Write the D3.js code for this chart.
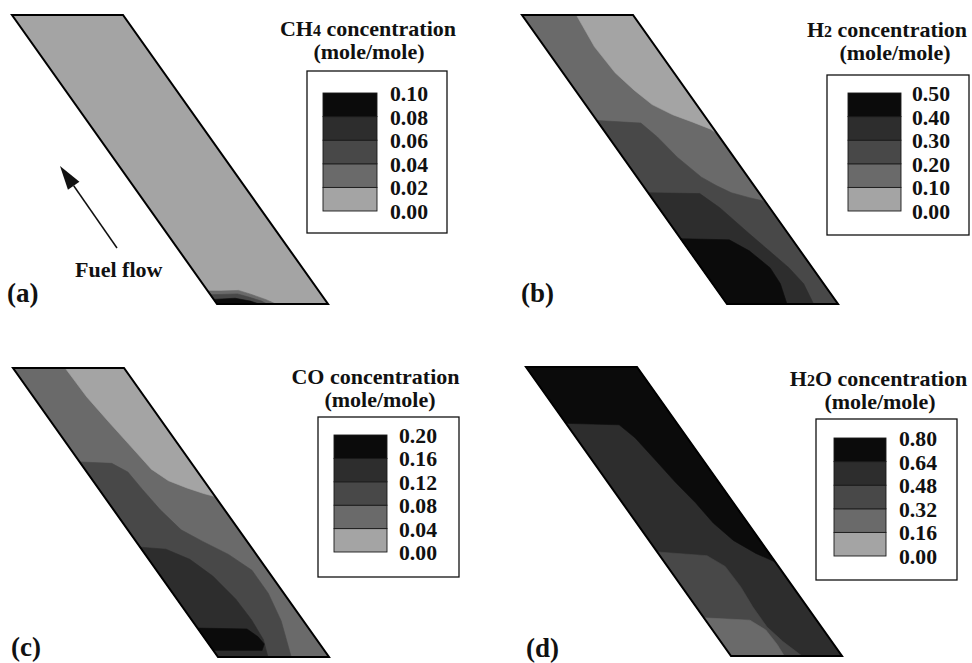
<!DOCTYPE html>
<html>
<head>
<meta charset="utf-8">
<script src="https://cdn.jsdelivr.net/npm/d3@7"></script>
<style>
  body { margin: 0; background: #fff; }
  text { font-family: "Liberation Serif", "Times New Roman", serif; font-weight: bold; fill: #111; }
</style>
</head>
<body>
<svg id="chart" width="972" height="663"></svg>
<script>
// grey levels of the five contour bands, lowest band first
const bandColors = ['#a4a4a4', '#6a6a6a', '#484848', '#2d2d2d', '#0b0b0b'];

// legend ticks (mole/mole)
const ch4Ticks = [0, 0.02, 0.04, 0.06, 0.08, 0.10];
const h2Ticks  = [0, 0.10, 0.20, 0.30, 0.40, 0.50];
const coTicks  = [0, 0.04, 0.08, 0.12, 0.16, 0.20];
const h2oTicks = [0, 0.16, 0.32, 0.48, 0.64, 0.80];

// contour regions, painted in order. pts are [across channel, along channel] in 0..1
const ch4Regions = [
  {value: 0.01, pts: [[0,0],[1,0],[1,1],[0,1]]},
  {value: 0.03, pts: [[0,0.955],[0.12,0.955],[0.28,0.953],[0.36,0.965],[0.47,0.985],[0.53,1],[0,1]]},
  {value: 0.05, pts: [[0,0.968],[0.25,0.965],[0.33,0.976],[0.42,0.99],[0.45,1],[0,1]]},
  {value: 0.09, pts: [[0,0.984],[0.2,0.98],[0.32,0.99],[0.38,1],[0,1]]}
];
const h2Regions = [
  {value: 0.15, pts: [[0,0],[1,0],[1,1],[0,1]]},
  {value: 0.05, pts: [[0.49,0],[1,0],[1,0.41],[0.97,0.395],[0.85,0.37],[0.72,0.345],[0.6,0.31],[0.53,0.26],[0.47,0.2],[0.45,0.11]]},
  {value: 0.25, pts: [[0,0.365],[0.38,0.374],[0.44,0.422],[0.49,0.492],[0.58,0.561],[0.66,0.59],[0.75,0.615],[0.88,0.632],[1,0.645],[1,1],[0,1]]},
  {value: 0.35, pts: [[0,0.615],[0.46,0.618],[0.55,0.667],[0.65,0.757],[0.72,0.816],[0.79,0.875],[0.82,0.93],[0.78,1],[0,1]]},
  {value: 0.45, pts: [[0,0.774],[0.43,0.778],[0.54,0.816],[0.62,0.875],[0.61,0.93],[0.54,1],[0,1]]}
];
const coRegions = [
  {value: 0.06, pts: [[0,0],[1,0],[1,1],[0,1]]},
  {value: 0.02, pts: [[0.47,0],[1,0],[1,0.445],[0.92,0.435],[0.8,0.415],[0.68,0.39],[0.6,0.35],[0.56,0.27],[0.52,0.19],[0.48,0.1]]},
  {value: 0.10, pts: [[0,0.325],[0.28,0.33],[0.37,0.36],[0.39,0.42],[0.42,0.49],[0.48,0.56],[0.6,0.6],[0.75,0.645],[0.86,0.7],[0.86,0.78],[0.8,0.875],[0.66,1],[0,1]]},
  {value: 0.14, pts: [[0,0.62],[0.22,0.627],[0.37,0.662],[0.47,0.72],[0.53,0.8],[0.54,0.87],[0.52,0.94],[0.45,1],[0,1]]},
  {value: 0.18, pts: [[0,0.9],[0.44,0.903],[0.49,0.93],[0.5,0.955],[0.44,0.977],[0,0.977]]}
];
const h2oRegions = [
  {value: 0.56, pts: [[0,0],[1,0],[1,1],[0,1]]},
  {value: 0.72, pts: [[0,0],[1,0],[1,0.675],[0.88,0.645],[0.76,0.6],[0.69,0.54],[0.66,0.47],[0.61,0.4],[0.57,0.32],[0.53,0.245],[0.47,0.2],[0,0.195]]},
  {value: 0.40, pts: [[0,0.64],[0.425,0.653],[0.52,0.69],[0.53,0.76],[0.51,0.83],[0.51,0.9],[0.56,0.95],[0.64,1],[0,1]]},
  {value: 0.24, pts: [[0,0.868],[0.4,0.876],[0.48,0.91],[0.49,0.96],[0.48,1],[0,1]]}
];

// species names: [text, subscript?]
const ch4Name = [['CH', false], ['4', true], [' concentration', false]];
const h2Name  = [['H', false], ['2', true], [' concentration', false]];
const coName  = [['CO concentration', false]];
const h2oName = [['H', false], ['2', true], ['O concentration', false]];

const chanW = 111, chanH = 289, skew = 205;

const panels = [
  {tag: '(a)', name: ch4Name, ticks: ch4Ticks, regions: ch4Regions, ox: 12, oy: 15,
   tag_xy: [7, 302], t1: [368, 36], t2: [369, 59],
   box: [307, 71, 140, 162], bar: [323, 93, 54, 118], labelX: 390},
  {tag: '(b)', name: h2Name, ticks: h2Ticks, regions: h2Regions, ox: 522, oy: 15,
   tag_xy: [521, 302], t1: [887, 37], t2: [895, 60],
   box: [827, 75, 142, 160], bar: [848, 93, 53, 118], labelX: 912},
  {tag: '(c)', name: coName, ticks: coTicks, regions: coRegions, ox: 13, oy: 368,
   tag_xy: [11, 656], t1: [375.5, 384], t2: [380, 407],
   box: [318, 417, 141, 160], bar: [334, 435, 53, 117], labelX: 399},
  {tag: '(d)', name: h2oName, ticks: h2oTicks, regions: h2oRegions, ox: 526, oy: 367,
   tag_xy: [526, 657], t1: [878.5, 386], t2: [880, 409],
   box: [816, 419, 141, 161], bar: [834, 438, 52, 118], labelX: 899}
];

const svg = d3.select('#chart');
const fmt = d3.format('.2f');

panels.forEach(p => {
  const color = d3.scaleThreshold().domain(p.ticks.slice(1, 5)).range(bandColors);
  const xs = d3.scaleLinear().domain([0, 1]).range([0, chanW]);
  const ys = d3.scaleLinear().domain([0, 1]).range([0, chanH]);
  const line = d3.line()
    .x(d => p.ox + xs(d[0]) + ys(d[1]) * skew / chanH)
    .y(d => p.oy + ys(d[1]))
    .curve(d3.curveLinearClosed);

  const g = svg.append('g');

  g.selectAll('path.band')
    .data(p.regions)
    .enter().append('path')
    .attr('class', 'band')
    .attr('d', d => line(d.pts))
    .attr('fill', d => color(d.value))
    .attr('stroke', d => color(d.value))
    .attr('stroke-width', 0.6);

  // channel outline
  g.append('path')
    .attr('d', line([[0,0],[1,0],[1,1],[0,1]]))
    .attr('fill', 'none')
    .attr('stroke', '#000')
    .attr('stroke-width', 2);

  // legend box
  g.append('rect')
    .attr('x', p.box[0]).attr('y', p.box[1])
    .attr('width', p.box[2]).attr('height', p.box[3])
    .attr('fill', '#fff').attr('stroke', '#111').attr('stroke-width', 1.3);

  const yL = d3.scaleLinear()
    .domain([0, p.ticks[p.ticks.length - 1]])
    .range([p.bar[1] + p.bar[3], p.bar[1]]);

  g.selectAll('rect.key')
    .data(d3.pairs(p.ticks))
    .enter().append('rect')
    .attr('class', 'key')
    .attr('x', p.bar[0])
    .attr('width', p.bar[2])
    .attr('y', d => yL(d[1]))
    .attr('height', d => yL(d[0]) - yL(d[1]))
    .attr('fill', d => color((d[0] + d[1]) / 2))
    .attr('stroke', '#1a1a1a')
    .attr('stroke-width', 0.9);

  g.selectAll('text.tick')
    .data(p.ticks)
    .enter().append('text')
    .attr('class', 'tick')
    .attr('x', p.labelX)
    .attr('y', d => yL(d) + 8)
    .attr('font-size', 22)
    .attr('textLength', 38)
    .attr('lengthAdjust', 'spacingAndGlyphs')
    .text(d => fmt(d));

  const title = g.append('text')
    .attr('x', p.t1[0]).attr('y', p.t1[1])
    .attr('text-anchor', 'middle')
    .attr('font-size', 22);
  title.selectAll('tspan')
    .data(p.name)
    .enter().append('tspan')
    .attr('font-size', d => d[1] ? 16 : 22)
    .text(d => d[0]);

  g.append('text')
    .attr('x', p.t2[0]).attr('y', p.t2[1])
    .attr('text-anchor', 'middle')
    .attr('font-size', 22)
    .text('(mole/mole)');

  g.append('text')
    .attr('x', p.tag_xy[0]).attr('y', p.tag_xy[1])
    .attr('font-size', 27)
    .text(p.tag);
});

// fuel flow arrow on panel (a)
const tail = [117, 248], tip = [60, 166];
const len = Math.hypot(tip[0] - tail[0], tip[1] - tail[1]);
const ux = (tip[0] - tail[0]) / len, uy = (tip[1] - tail[1]) / len;
const headL = 24, headW = 7;
const bx = tip[0] - ux * headL, by = tip[1] - uy * headL;
svg.append('line')
  .attr('x1', tail[0]).attr('y1', tail[1])
  .attr('x2', bx).attr('y2', by)
  .attr('stroke', '#111').attr('stroke-width', 1.5);
svg.append('path')
  .attr('d', `M${tip[0]},${tip[1]} L${bx - uy * headW},${by + ux * headW} L${bx + uy * headW},${by - ux * headW} Z`)
  .attr('fill', '#111');
svg.append('text')
  .attr('x', 75).attr('y', 277)
  .attr('font-size', 22)
  .text('Fuel flow');
</script>
</body>
</html>
